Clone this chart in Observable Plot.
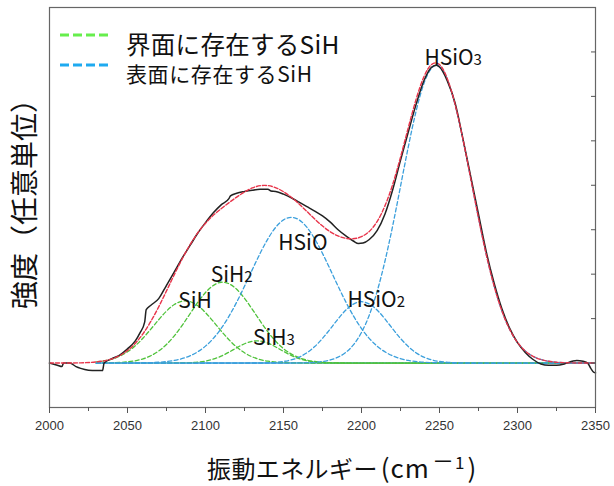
<!DOCTYPE html>
<html>
<head>
<meta charset="utf-8">
<script src="https://cdn.jsdelivr.net/npm/d3@7"></script>
<script src="https://cdn.jsdelivr.net/npm/@observablehq/plot@0.6"></script>
<style>
  html, body { margin: 0; padding: 0; background: #fff; }
  #chart { width: 614px; height: 486px; }
  svg { overflow: visible; }
</style>
</head>
<body>
<div id="chart"></div>
<script>
// ---------------- data ----------------
// shared wavenumber grid (cm^-1) for the fitted curve and its components
const wavenumber = [2000,2010,2020,2030,2040,2050,2060,2070,2080,2090,2100,2110,2120,2130,2140,2150,2160,2170,2180,2190,2200,2210,2220,2230,2240,2250,2260,2270,2280,2290,2300,2310,2320,2330,2340,2350];

// interface SiH components (green dashed)
const SiH  = [null,null,null,0.024,0.088,0.253,0.563,0.975,1.317,1.384,1.134,0.723,0.359,0.139,0.042,0.010,0.002,0,0,0,0,0,0,0,0,0,0,0,0,0,0,0,0,0,0,0];
const SiH2 = [null,null,null,0.001,0.006,0.027,0.095,0.271,0.612,1.104,1.587,1.818,1.660,1.209,0.701,0.324,0.120,0.035,0.008,0.001,0,0,0,0,0,0,0,0,0,0,0,0,0,0,0,0];
const SiH3 = [null,null,null,0,0,0,0,0,0.001,0.008,0.045,0.155,0.344,0.490,0.448,0.263,0.099,0.024,0.004,0,0,0,0,0,0,0,0,0,0,0,0,0,0,0,0,0];
// surface SiH components (blue dashed)
const HSiO  = [null,null,null,0,0,0.001,0.005,0.019,0.060,0.162,0.381,0.776,1.371,2.102,2.795,3.222,3.222,2.795,2.102,1.371,0.776,0.381,0.162,0.060,0.019,0.005,0.001,0,0,0,0,0,0,0,0,0];
const HSiO2 = [null,null,null,0,0,0,0,0,0,0,0,0,0,0.001,0.007,0.036,0.133,0.371,0.769,1.193,1.380,1.193,0.769,0.371,0.133,0.036,0.007,0.001,0,0,0,0,0,0,0,0];
const HSiO3 = [null,null,null,0,0,0,0,0,0,0,0,0,0,0,0,0,0.003,0.016,0.070,0.242,0.688,1.610,3.089,4.865,6.289,6.674,5.812,4.154,2.437,1.173,0.464,0.150,0.040,0.009,0.002,0];
// fitted total (red dashed)
const fitTotal = [0,0,0.005,0.025,0.094,0.281,0.663,1.265,1.990,2.658,3.147,3.472,3.734,3.941,3.993,3.855,3.579,3.241,2.953,2.807,2.844,3.184,4.020,5.296,6.441,6.715,5.820,4.155,2.437,1.173,0.464,0.150,0.040,0.009,0.002,0];

// measured spectrum (black)
const measuredX = [2000,2005,2008,2009,2013,2017,2020,2025,2030,2034,2035,2040,2045,2050,2055,2058,2061,2062,2065,2070,2075,2080,2085,2090,2095,2100,2105,2110,2115,2116,2120,2125,2130,2135,2140,2142,2145,2150,2155,2160,2165,2170,2175,2180,2185,2190,2195,2198,2201,2205,2210,2215,2220,2225,2230,2235,2240,2245,2248,2250,2255,2260,2265,2270,2275,2280,2285,2290,2295,2300,2305,2310,2315,2320,2325,2330,2335,2338,2342,2345,2347,2349,2350];
const measuredY = [0,-0.05,-0.08,0,0,-0.08,-0.12,-0.16,-0.17,-0.17,0,0.10,0.18,0.32,0.50,0.68,0.92,1.20,1.30,1.45,1.75,2.05,2.36,2.64,2.92,3.16,3.38,3.56,3.70,3.76,3.82,3.86,3.89,3.91,3.91,3.87,3.86,3.80,3.72,3.62,3.52,3.42,3.31,3.17,3.00,2.86,2.74,2.69,2.70,2.78,2.98,3.35,3.90,4.56,5.20,5.82,6.35,6.66,6.70,6.66,6.35,5.85,5.05,4.20,3.35,2.50,1.80,1.22,0.78,0.46,0.24,0.08,-0.02,-0.05,-0.05,-0.02,0.04,0.06,0.04,0,-0.12,-0.21,-0.22];

// peak labels and their peak positions
const peakLabels  = ["SiH","SiH2","SiH3","HSiO","HSiO2","HSiO3"];
const peakCenters = [2087, 2111, 2133, 2155, 2200, 2248];
const peakHeights = [1.40, 1.82, 0.50, 3.28, 1.38, 6.70];

// axis ticks
const xTicks = [2000,2050,2100,2150,2200,2250,2300,2350];
const xMinorTicks = [2025,2075,2125,2175,2225,2275,2325];
const yTicks = [0,1,2,3,4,5,6,7];

// legend / axis texts
const legendLabels = ["界面に存在するSiH","表面に存在するSiH"];
const xTitle = "振動エネルギー";
const xUnit = ["(cm", "－", "1", ")"];
const yTitle = "強度（任意単位）";

// ---------------- styling ----------------
const GREEN = "#4fc23a", BLUE = "#3b9fdc", RED = "#e8344a", BLACK = "#222";
const LEG_GREEN = "#66ee4c", LEG_BLUE = "#1eaaf0";
const JP = "'Noto Sans CJK JP', 'Noto Sans', sans-serif";

const components = [
  {v: SiH, c: GREEN}, {v: SiH2, c: GREEN}, {v: SiH3, c: GREEN},
  {v: HSiO, c: BLUE}, {v: HSiO2, c: BLUE}, {v: HSiO3, c: BLUE}
];
const labelOffsets = [[-7,0],[-12,-7],[-4,-3],[-13,26],[-14,-1],[-12,-7]];

const marks = [
  Plot.ruleY([0], {x1: wavenumber[3], x2: wavenumber[wavenumber.length-1], stroke: BLUE, strokeWidth: 1.6}),
  ...components.map(({v, c}) => Plot.line(v, {
    x: (d, i) => wavenumber[i], y: d => d, curve: "natural",
    stroke: c, strokeWidth: 1.3, strokeDasharray: "4,2.5"
  })),
  Plot.line(measuredY, {x: (d, i) => measuredX[i], y: d => d, curve: "monotone-x", stroke: BLACK, strokeWidth: 1.5}),
  Plot.line(fitTotal, {x: (d, i) => wavenumber[i], y: d => d, curve: "natural", stroke: RED, strokeWidth: 1.4, strokeDasharray: "4,2"}),
  ...peakLabels.map((lab, i) => Plot.text([i], {
    x: j => peakCenters[j], y: j => peakHeights[j], text: j => peakLabels[j],
    textAnchor: "start", dx: labelOffsets[i][0], dy: labelOffsets[i][1],
    fontSize: 21, fill: "#111", fontFamily: JP
  })),
  Plot.frame({stroke: "#666", strokeWidth: 1.2}),
  Plot.axisX({ticks: xTicks, tickSize: 6, tickPadding: 7, tickFormat: d => String(d), label: null, fontSize: 13, fill: "#333", stroke: "#555"}),
  Plot.axisX({ticks: xMinorTicks, tickSize: 4, tickFormat: () => "", label: null, stroke: "#555"}),
  Plot.axisY({anchor: "right", ticks: yTicks, tickSize: -5, tickFormat: () => "", label: null, stroke: "#555"})
];

const plot = Plot.plot({
  width: 614, height: 486,
  marginLeft: 49, marginRight: 19, marginTop: 7, marginBottom: 79,
  style: {fontFamily: "'Liberation Sans', Arial, sans-serif", fontSize: "13px", background: "#fff", color: "#333"},
  x: {domain: [2000, 2350]},
  y: {domain: [-1, 8]},
  marks
});
document.getElementById("chart").appendChild(plot);

const svg = d3.select(plot);
// subscripts in peak labels
svg.selectAll("text").each(function() {
  const t = this.textContent;
  const m = /^([A-Za-z]+)(\d)$/.exec(t);
  if (m && this.childElementCount === 0) {
    this.textContent = m[1];
    d3.select(this).append("tspan").attr("font-size", 15).text(m[2]);
  }
});

// legend
const leg = svg.append("g");
[[LEG_GREEN, 35, 43, 24.5, 0.3], [LEG_BLUE, 65, 73, 21, 0.6]].forEach(([col, ly, ty, fs, ls], i) => {
  leg.append("line").attr("x1", 60).attr("x2", 108).attr("y1", ly).attr("y2", ly)
    .attr("stroke", col).attr("stroke-width", 2.8).attr("stroke-dasharray", "9,4");
  leg.append("text").attr("x", 126).attr("y", ty).attr("dominant-baseline", "central")
    .attr("text-anchor", "start").attr("letter-spacing", ls)
    .attr("font-family", JP).attr("font-size", fs).attr("fill", "#111").text(legendLabels[i]);
});

// x title
const xt = svg.append("text").attr("x", 207).attr("y", 478).attr("text-anchor", "start")
  .attr("font-family", JP).attr("font-size", 24).attr("fill", "#111");
xt.append("tspan").attr("letter-spacing", 0.4).text(xTitle);
xt.append("tspan").attr("font-size", 26).attr("dx", 3).attr("letter-spacing", 1).text(xUnit[0]);
xt.append("tspan").attr("font-size", 22).attr("dx", 2).attr("dy", -9).text(xUnit[1]);
xt.append("tspan").attr("font-size", 17).attr("dx", 1).text(xUnit[2]);
xt.append("tspan").attr("font-size", 26).attr("dx", 3).attr("dy", 9).text(xUnit[3]);

// y title
svg.append("text").attr("transform", "translate(23,197) rotate(-90)")
  .attr("text-anchor", "middle").attr("dominant-baseline", "central")
  .attr("font-family", JP).attr("font-size", 28).attr("fill", "#111").text(yTitle);
</script>
</body>
</html>
